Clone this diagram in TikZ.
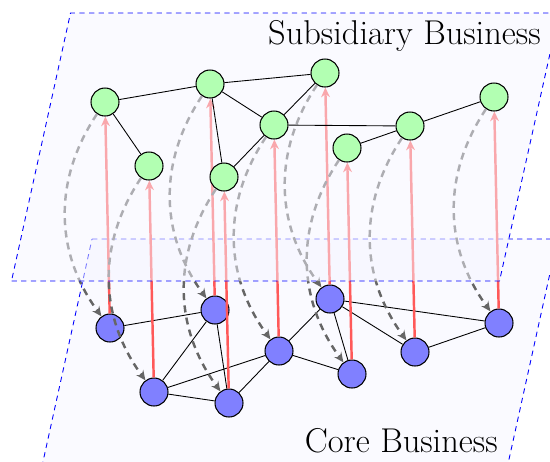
\documentclass[tikz,border=0pt]{standalone}
\usepackage{fontspec}
\usepackage{tikz}
\usetikzlibrary{arrows.meta}
\pgfdeclarelayer{corelayer}
\pgfdeclarelayer{arrowlayer}
\pgfsetlayers{corelayer,arrowlayer,main}

\begin{document}
\begin{tikzpicture}[x=0.02cm, y=-0.02cm,
    plane/.style={draw=blue, line width=0.5pt, dash pattern=on 3pt off 2.5pt, fill=blue!4, fill opacity=0.5},
    subnode/.style={circle, draw, line width=0.6pt, fill=green!30, minimum size=0.56cm, inner sep=0pt},
    corenode/.style={circle, draw, line width=0.6pt, fill=blue!50, minimum size=0.56cm, inner sep=0pt},
    link/.style={line width=0.5pt},
    lift/.style={-{Stealth[length=5.5pt,width=5pt]}, red!65, line width=1.4pt},
    drop/.style={-{Stealth[length=5.5pt,width=5pt]}, black!60, dash pattern=on 4pt off 3pt, line width=1.4pt, bend right=35},
    planelabel/.style={font=\fontsize{19.6}{23}\selectfont, anchor=base east, inner sep=0pt}]
    \useasboundingbox (0,0) rectangle (550,461);

    % core business layer
    \begin{pgfonlayer}{corelayer}
    \draw[plane] (92,239) -- (557.5,239) -- (498.5,507) -- (33,507) -- cycle;
    \foreach \i/\x/\y in {1/110/328, 2/215/310, 3/154/392, 4/229/403, 5/279/351, 6/330/299, 7/352/374, 8/415/352, 9/499/323}
        \node[corenode] (c\i) at (\x,\y) {};
    \draw[link] (c1) -- (c2) (c2) -- (c3) (c2) -- (c4) (c3) -- (c4) (c3) -- (c5) (c4) -- (c5)
        (c5) -- (c6) (c5) -- (c7) (c6) -- (c7) (c6) -- (c8) (c6) -- (c9) (c8) -- (c9);
    \end{pgfonlayer}

    % subsidiary business layer
    \draw[plane] (11.5,281) -- (499.5,281) -- (559,13) -- (70.5,13) -- cycle;
    \foreach \i/\x/\y in {1/110/328, 2/215/310, 3/154/392, 4/229/403, 5/279/351, 6/330/299, 7/352/374, 8/415/352, 9/499/323}
        \node[subnode] (s\i) at ({\x-5},{\y-226}) {};
    \draw[link] (s1) -- (s2) (s1) -- (s3) (s2) -- (s6) (s2) -- (s5) (s2) -- (s4) (s4) -- (s5)
        (s5) -- (s6) (s5) -- (s8) (s7) -- (s8) (s8) -- (s9);

    % mappings between layers
    \begin{pgfonlayer}{arrowlayer}
    \foreach \i in {1,...,9} {
        \draw[lift] (c\i) -- (s\i);
        \draw[drop] (s\i) to (c\i);
    }
    \end{pgfonlayer}

    \node[planelabel] (sublabel) at (541,44) {Subsidiary Business};
    \node[planelabel] (corelabel) at (498,452) {Core Business};
\end{tikzpicture}
\end{document}
